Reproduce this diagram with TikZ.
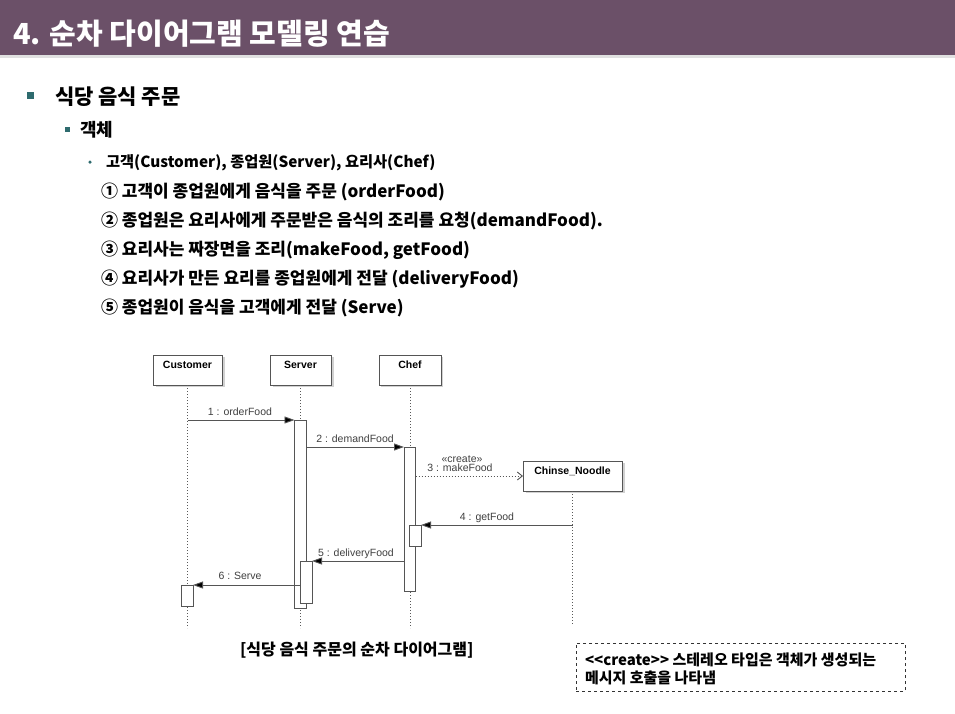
\documentclass[tikz,border=0pt]{standalone}
\usepackage{fontspec}
\setmainfont{Noto Sans CJK KR}
\newfontfamily\diagfont{Liberation Sans}
\usetikzlibrary{arrows.meta}
\definecolor{titlebar}{HTML}{6B5068}
\definecolor{teal}{HTML}{2E6B6E}
\definecolor{linegray}{HTML}{555555}
\begin{document}
\begin{tikzpicture}[x=1pt,y=-1pt,
  every node/.style={inner sep=0pt, outer sep=0pt},
  txt/.style={anchor=base west, text=black},
  objbox/.style={draw=linegray, line width=0.9pt, fill=white, minimum width=#1, minimum height=30},
  objlab/.style={anchor=center, font=\diagfont\bfseries\fontsize{10.5}{12}\selectfont},
  shadowbox/.style={fill=black!18, minimum width=#1, minimum height=30},
  act/.style={draw=linegray, line width=0.9pt, fill=white, anchor=north west, minimum width=11.5},
  life/.style={draw=black!65, line width=1pt, dash pattern=on 1.3pt off 1.7pt},
  msg/.style={draw=linegray, line width=0.9pt, -{Triangle[length=10,width=7,fill=black]}},
  cmsg/.style={draw=linegray, line width=0.9pt, dash pattern=on 1.3pt off 1.7pt, -{Straight Barb[length=5,width=8]}},
  mlab/.style={anchor=base, text=black!75, font=\diagfont\fontsize{10.5}{12}\selectfont},
]
\useasboundingbox (0,0) rectangle (955,713);
\fill[white] (0,0) rectangle (955,713);
% title bar
\fill[titlebar] (0,0) rectangle (955,55);
\fill[black!12] (0,55) rectangle (955,58);
\node[txt, text=white, font=\bfseries\fontsize{29}{34}\selectfont] (title) at (13,44) {4. 순차 다이어그램 모델링 연습};
% bullets
\node[fill=teal, minimum size=7, anchor=center] (b1) at (30,95) {};
\node[txt, font=\bfseries\fontsize{21}{24}\selectfont] (l1) at (55,104) {식당 음식 주문};
\node[fill=teal, minimum size=5, anchor=center] (b2) at (67,129) {};
\node[txt, font=\bfseries\fontsize{18}{20}\selectfont] (l2) at (80,136) {객체};
\node[circle, fill=teal, minimum size=3.5, anchor=center] (b3) at (90,162) {};
\node[txt, font=\bfseries\fontsize{15.3}{18}\selectfont] (l3) at (106,167) {고객(Customer), 종업원(Server), 요리사(Chef)};
\begin{scope}[every node/.append style={txt, font=\bfseries\fontsize{17}{19}\selectfont}]
\node (i1) at (101,197) {① 고객이 종업원에게 음식을 주문 (orderFood)};
\node (i2) at (101,226) {② 종업원은 요리사에게 주문받은 음식의 조리를 요청(demandFood).};
\node (i3) at (101,255) {③ 요리사는 짜장면을 조리(makeFood, getFood)};
\node (i4) at (101,284) {④ 요리사가 만든 요리를 종업원에게 전달 (deliveryFood)};
\node (i5) at (101,313) {⑤ 종업원이 음식을 고객에게 전달 (Serve)};
\end{scope}
% object boxes
\node[shadowbox=69] (cs) at (190,372) {};
\node[objbox=69] (cust) at (187.5,370) {};
\node[objlab] (custl) at ([yshift=-10pt]cust.north) {Customer};
\node[shadowbox=61] (ss) at (303,372) {};
\node[objbox=61] (serv) at (300.5,370) {};
\node[objlab] (servl) at ([yshift=-10pt]serv.north) {Server};
\node[shadowbox=62] (chs) at (412,372) {};
\node[objbox=62] (chef) at (410,370) {};
\node[objlab] (chefl) at ([yshift=-10pt]chef.north) {Chef};
\node[shadowbox=99] (ns) at (575,478) {};
\node[objbox=99] (nood) at (572.5,476) {};
\node[objlab] (noodl) at ([yshift=-10pt]nood.north) {Chinse\_Noodle};
% lifelines
\draw[life] (cust.south) -- ++(0,243);
\draw[life] (serv.south) -- ++(0,243);
\draw[life] (chef.south) -- ++(0,243);
\draw[life] (nood.south) -- ++(0,134);
% activations
\node[act, minimum height=188] (a1) at (294.5,420) {};
\node[act, minimum height=144] (a2) at (404,447) {};
\node[act, minimum height=21] (a3) at (409.5,525) {};
\node[act, minimum height=42] (a4) at (300.5,561) {};
\node[act, minimum height=21] (a5) at (181.5,585) {};
% messages
\draw[msg] (cust.south |- a1.north) -- (a1.north west);
\node[mlab] (t1) at (240,415) {1 : orderFood};
\draw[msg] (a1.north east |- a2.north) -- (a2.north west);
\node[mlab] (t2) at (355,442) {2 : demandFood};
\draw[cmsg] (a2.east |- nood.west) -- (nood.west);
\node[mlab] (t3a) at (462,462) {«create»};
\node[mlab] (t3) at (460,471) {3 : makeFood};
\draw[msg] (nood.south |- a3.north) -- (a3.north east);
\node[mlab] (t4) at (487,520) {4 : getFood};
\draw[msg] (a2.north west |- a4.north) -- (a4.north east);
\node[mlab] (t5) at (356,556) {5 : deliveryFood};
\draw[msg] (a4.north west |- a5.north) -- (a5.north east);
\node[mlab] (t6) at (240,579) {6 : Serve};
% caption
\node[txt, font=\bfseries\fontsize{16}{18}\selectfont] (cap) at (240,655) {[식당 음식 주문의 순차 다이어그램]};
% note
\node[draw=black!80, dashed, line width=0.8pt, anchor=north west, minimum width=329, minimum height=48] (note) at (576,643) {};
\node[txt, font=\bfseries\fontsize{15}{18}\selectfont] (n1) at (585,665) {\mbox{<}\mbox{<}create\mbox{>}\mbox{>} 스테레오 타입은 객체가 생성되는};
\node[txt, font=\bfseries\fontsize{15}{18}\selectfont] (n2) at (585,683) {메시지 호출을 나타냄};
\end{tikzpicture}
\end{document}
